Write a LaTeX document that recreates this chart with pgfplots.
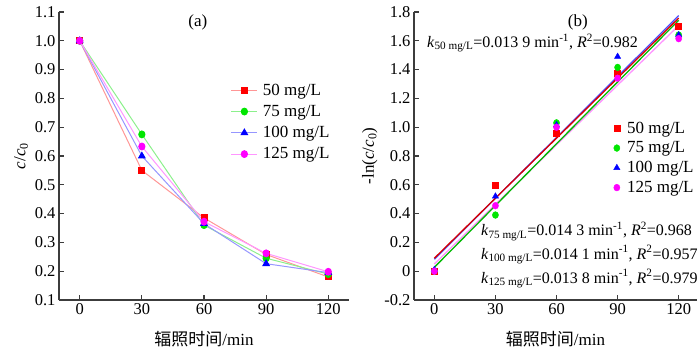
\documentclass[border=0pt]{standalone}
\usepackage{pgfplots}
\pgfplotsset{compat=1.18}
\usepackage{fontspec}
\setmainfont{Liberation Serif}
\newfontfamily\cjk{Noto Sans CJK SC}
\definecolor{lred}{RGB}{255,150,150}
\definecolor{lgreen}{RGB}{140,240,140}
\definecolor{lblue}{RGB}{150,150,255}
\definecolor{lmag}{RGB}{255,150,255}
\definecolor{mred}{RGB}{255,0,0}
\definecolor{mgreen}{RGB}{0,230,0}
\definecolor{mblue}{RGB}{0,0,255}
\definecolor{mmag}{RGB}{255,0,255}
\definecolor{axcol}{RGB}{60,60,60}
\pgfplotsset{
  mystyle/.style={
    scale only axis, height=288pt,
    axis lines*=left,
    axis line style={line width=1.2pt, color=axcol},
    every tick/.style={line width=1.1pt, color=axcol},
    tick align=inside, major tick length=5pt,
    tick label style={font=\fontsize{16.5}{19}\selectfont},
    label style={font=\fontsize{17}{20}\selectfont},
    /pgf/number format/assume math mode=true,
    xmin=-10, xtick={0,30,60,90,120},
    clip=false,
    legend cell align=left,
    legend style={draw=none, fill=none, inner sep=0pt, anchor=north west,
      font=\fontsize{17}{20}\selectfont},
    xlabel={{\cjk 辐照时间}/min},
    xlabel style={at={(axis description cs:0.5,-0.137)}, anchor=center},
  }
}
\begin{document}
\begin{tikzpicture}
\path[use as bounding box] (0pt,0pt) rectangle (700pt,350pt);
\begin{axis}[mystyle, at={(59pt,50pt)}, anchor=south west, width=290pt,
  xmax=130, ymin=0.1, ymax=1.1,
  ytick={0.1,0.2,0.3,0.4,0.5,0.6,0.7,0.8,0.9,1.0,1.1},
  yticklabels={0.1,0.2,0.3,0.4,0.5,0.6,0.7,0.8,0.9,1.0,1.1},
  ylabel={\textit{c}/\textit{c}\textsubscript{0}},
  legend style={at={(rel axis cs:0.592,0.758)}, row sep=4.5pt},
  legend image code/.code={\draw[mark repeat=2,mark phase=2,#1] plot coordinates {(0pt,0pt)(13pt,0pt)(26pt,0pt)}; \path (29pt,0pt);},
]
\addplot[color=lred, line width=1pt, mark=square*, mark size=3pt, mark options={fill=mred, draw=mred}]
  coordinates {(0,1.0)(30,0.55)(60,0.385)(90,0.258)(120,0.18)};
\addlegendentry{50 mg/L}
\addplot[color=lgreen, line width=1pt, mark=*, mark size=3.1pt, mark options={fill=mgreen, draw=mgreen, yscale=1.1}]
  coordinates {(0,1.0)(30,0.675)(60,0.36)(90,0.245)(120,0.19)};
\addlegendentry{75 mg/L}
\addplot[color=lblue, line width=1pt, mark=triangle*, mark size=3.6pt, mark options={fill=mblue, draw=mblue}]
  coordinates {(0,1.0)(30,0.60)(60,0.365)(90,0.226)(120,0.195)};
\addlegendentry{100 mg/L}
\addplot[color=lmag, line width=1pt, mark=*, mark size=3.1pt, mark options={fill=mmag, draw=mmag, yscale=1.1}]
  coordinates {(0,1.0)(30,0.633)(60,0.372)(90,0.262)(120,0.198)};
\addlegendentry{125 mg/L}
\node[font=\fontsize{17}{20}\selectfont] at (axis cs:57,1.065) {(a)};
\end{axis}

\begin{axis}[mystyle, at={(414pt,50pt)}, anchor=south west, width=283pt,
  xmax=129, ymin=-0.2, ymax=1.8,
  ytick={-0.2,0,0.2,0.4,0.6,0.8,1.0,1.2,1.4,1.6,1.8},
  yticklabels={-0.2,0,0.2,0.4,0.6,0.8,1.0,1.2,1.4,1.6,1.8},
  ylabel={-ln(\textit{c}/\textit{c}\textsubscript{0})},
  legend style={at={(rel axis cs:0.705,0.626)}, row sep=3pt},
  legend image code/.code={\draw[#1] plot coordinates {(0pt,0pt)}; \path (8pt,0pt);},
]
\addplot[only marks, mark=square*, mark size=3pt, color=mred]
  coordinates {(0,0)(30,0.60)(60,0.955)(90,1.375)(120,1.70)};
\addlegendentry{50 mg/L}
\addplot[only marks, mark=*, mark size=3.1pt, color=mgreen, mark options={yscale=1.1}]
  coordinates {(0,0)(30,0.39)(60,1.03)(90,1.415)(120,1.64)};
\addlegendentry{75 mg/L}
\addplot[only marks, mark=triangle*, mark size=3.6pt, color=mblue]
  coordinates {(0,0.01)(30,0.52)(60,1.015)(90,1.49)(120,1.64)};
\addlegendentry{100 mg/L}
\addplot[only marks, mark=*, mark size=3.1pt, color=mmag, mark options={yscale=1.1}]
  coordinates {(0,0)(30,0.455)(60,1.00)(90,1.34)(120,1.615)};
\addlegendentry{125 mg/L}
\addplot[forget plot, line width=1.3pt, color=lmag] coordinates {(0,0.05)(120,1.706)};
\addplot[forget plot, line width=1.3pt, color=mgreen!80!black] coordinates {(0,0.027)(120,1.743)};
\addplot[forget plot, line width=1.3pt, color=mblue!70!white] coordinates {(0,0.083)(120,1.775)};
\addplot[forget plot, line width=1.3pt, color=mred!85!black] coordinates {(0,0.09)(120,1.758)};
\node[font=\fontsize{17}{20}\selectfont] at (axis cs:70.5,1.73) {(b)};
\node[font=\fontsize{16}{19}\selectfont, anchor=west, inner sep=0pt] at (axis cs:-3.6,1.585)
  {\textit{k}\textsubscript{50 mg/L}=0.013 9 min\textsuperscript{-1}, \textit{R}\textsuperscript{2}=0.982};
\node[font=\fontsize{16}{19}\selectfont, anchor=west, inner sep=0pt] at (axis cs:22.9,0.276)
  {\textit{k}\textsubscript{75 mg/L}=0.014 3 min\textsuperscript{-1}, \textit{R}\textsuperscript{2}=0.968};
\node[font=\fontsize{16}{19}\selectfont, anchor=west, inner sep=0pt] at (axis cs:22.9,0.113)
  {\textit{k}\textsubscript{100 mg/L}=0.014 1 min\textsuperscript{-1}, \textit{R}\textsuperscript{2}=0.957};
\node[font=\fontsize{16}{19}\selectfont, anchor=west, inner sep=0pt] at (axis cs:22.9,-0.052)
  {\textit{k}\textsubscript{125 mg/L}=0.013 8 min\textsuperscript{-1}, \textit{R}\textsuperscript{2}=0.979};
\end{axis}
\end{tikzpicture}
\end{document}
